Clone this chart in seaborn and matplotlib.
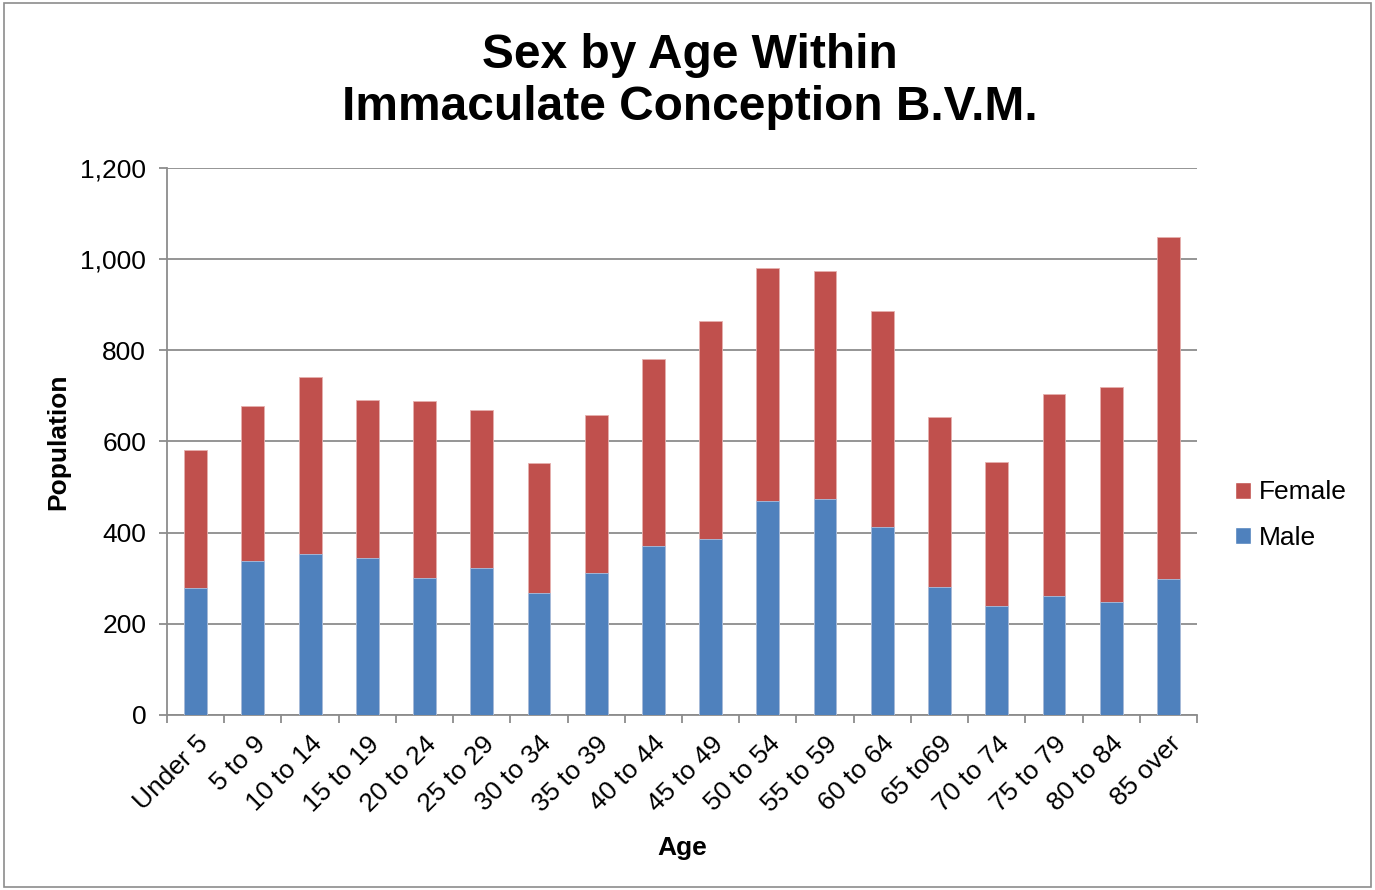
import matplotlib
matplotlib.use("Agg")
import matplotlib.pyplot as plt
import seaborn as sns
import pandas as pd
import numpy as np
from matplotlib.patches import Patch
from matplotlib.ticker import FuncFormatter, FixedLocator

categories = ["Under 5", "5 to 9", "10 to 14", "15 to 19", "20 to 24", "25 to 29",
              "30 to 34", "35 to 39", "40 to 44", "45 to 49", "50 to 54", "55 to 59",
              "60 to 64", "65 to69", "70 to 74", "75 to 79", "80 to 84", "85 over"]
male = [278, 338, 354, 345, 300, 323, 267, 311, 371, 387, 470, 473, 412, 280, 239, 261, 247, 299]
female = [304, 340, 388, 345, 388, 346, 285, 348, 409, 478, 510, 500, 474, 373, 315, 444, 472, 750]

df = pd.DataFrame({"Age": categories, "Male": male, "Female": female})
df["Total"] = df["Male"] + df["Female"]

sns.set_theme(style="white")
plt.rcParams['font.family'] = ['Liberation Sans', 'DejaVu Sans']
plt.rcParams['text.color'] = 'black'
plt.rcParams['axes.labelcolor'] = 'black'
plt.rcParams['xtick.color'] = 'black'
plt.rcParams['ytick.color'] = 'black'

blue = "#4F81BD"
red = "#C0504D"

fig = plt.figure(figsize=(13.75, 8.9), dpi=100)
ax = fig.add_axes([167/1375, 1-715/890, (1197-167)/1375, (715-168)/890])

sns.barplot(data=df, x="Age", y="Total", color=red, width=0.4, ax=ax,
            saturation=1, edgecolor="#E6B0AE", linewidth=0.6, zorder=3)
sns.barplot(data=df, x="Age", y="Male", color=blue, width=0.4, ax=ax,
            saturation=1, edgecolor="#A9C1E0", linewidth=0.6, zorder=4)

ax.set_ylim(0, 1200)
ax.set_xlim(-0.5, len(categories) - 0.5)
ax.set_yticks(np.arange(0, 1201, 200))
ax.yaxis.set_major_formatter(FuncFormatter(lambda v, p: f"{int(v):,}"))
ax.yaxis.grid(True, color="#8C8C8C", linewidth=1.3, zorder=0)
ax.set_axisbelow(True)

ax.set_xticks(range(len(categories)))
ax.set_xticklabels(categories, rotation=45, ha="right", rotation_mode="anchor", fontsize=19)
ax.tick_params(axis="x", which="major", length=0, pad=12)
ax.xaxis.set_minor_locator(FixedLocator(np.arange(-0.5, len(categories), 1.0)))
ax.tick_params(axis="x", which="minor", length=6, width=1.3, color="#8C8C8C", direction="out", bottom=True)
ax.tick_params(axis="y", length=6, width=1.3, color="#8C8C8C", labelcolor="black",
               direction="out", left=True, labelsize=19, pad=9)

for s in ["top", "right"]:
    ax.spines[s].set_visible(False)
for s in ["left", "bottom"]:
    ax.spines[s].set_color("#8C8C8C")
    ax.spines[s].set_linewidth(1.3)

ax.set_xlabel("Age", fontsize=19, fontweight="bold", labelpad=14)
ax.set_ylabel("Population", fontsize=19, fontweight="bold", labelpad=7)

fig.text(0.5 + 0.002, 1 - 82/890, "Sex by Age Within\nImmaculate Conception B.V.M.",
         ha="center", va="center", fontsize=34.5, fontweight="bold", linespacing=1.2)

handles = [Patch(facecolor=red, label="Female"), Patch(facecolor=blue, label="Male")]
fig.legend(handles=handles, loc="center left", bbox_to_anchor=(1211/1375, 1 - 515/890),
           frameon=False, fontsize=19, handlelength=0.6, handleheight=0.6,
           handletextpad=0.3, labelspacing=0.8)

border = plt.Rectangle((0.003, 0.003), 0.994, 0.994, transform=fig.transFigure,
                       fill=False, edgecolor="#8C8C8C", linewidth=1.2)
fig.patches.append(border)

fig.savefig("out.png", dpi=100, facecolor="white")
